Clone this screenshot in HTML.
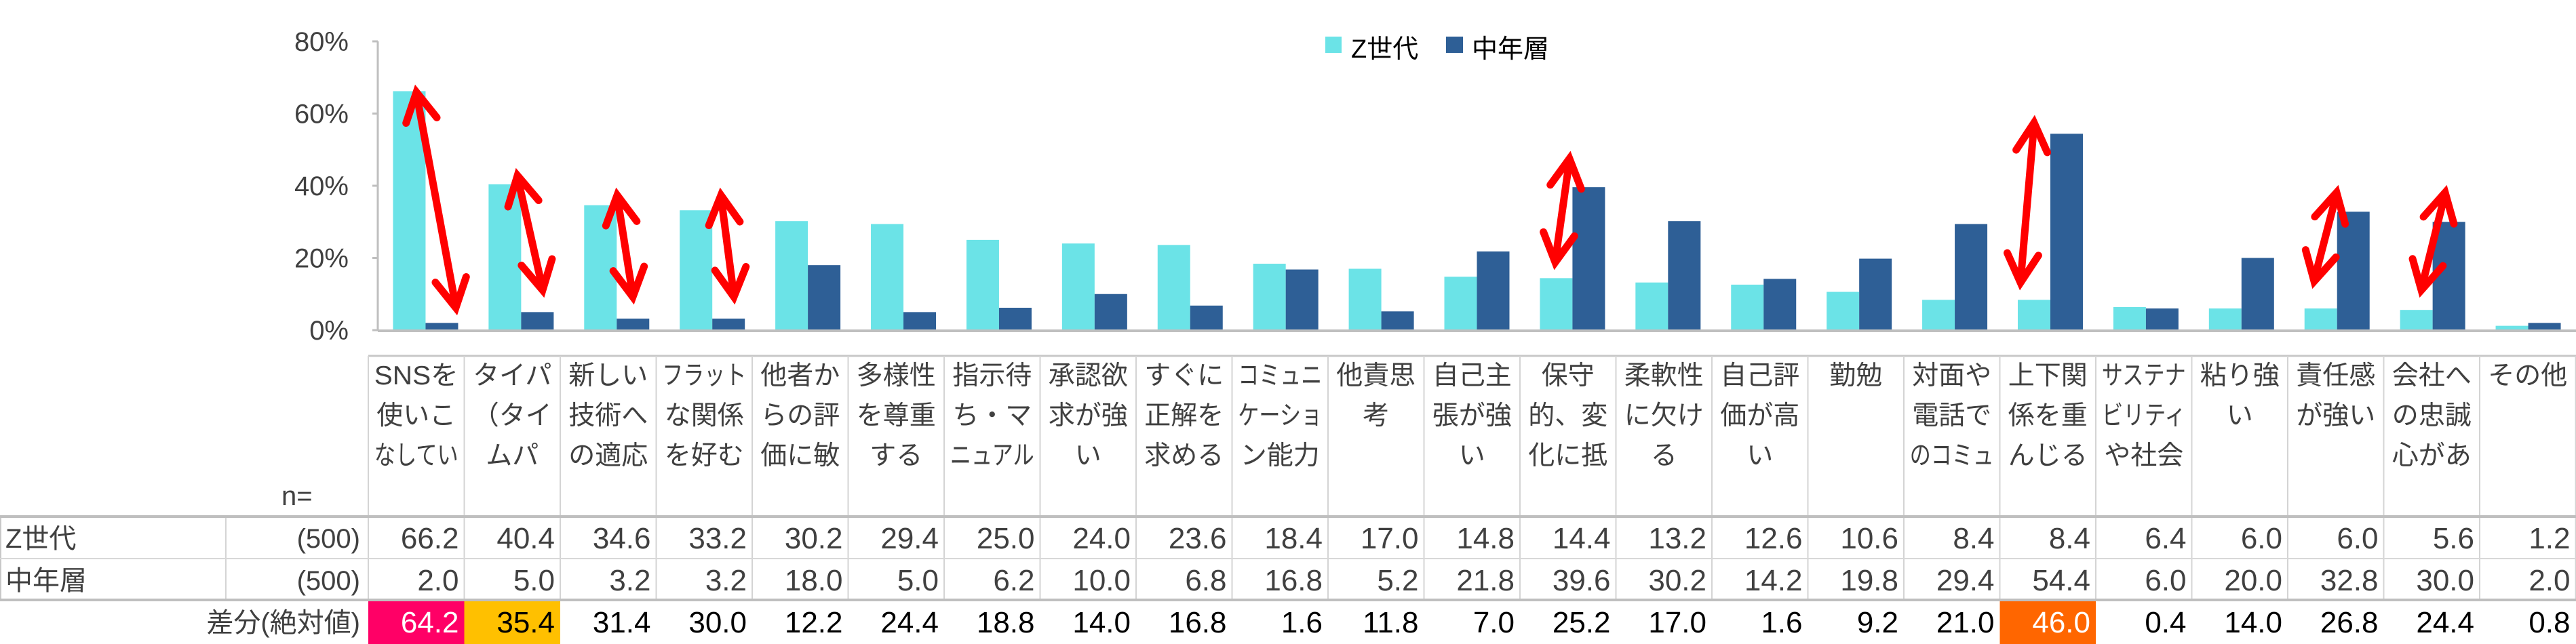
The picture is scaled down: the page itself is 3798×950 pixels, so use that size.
<!DOCTYPE html>
<html><head><meta charset="utf-8">
<style>
html,body{margin:0;padding:0;background:#fff;}
svg{display:block;font-family:"Liberation Sans","Noto Sans CJK JP",sans-serif;}
</style></head>
<body>
<svg id="s" width="3798" height="950" viewBox="0 0 3798 950" xmlns="http://www.w3.org/2000/svg"></svg>
<script>
const S=document.getElementById('s');
let h='';
const Z=[66.2,40.4,34.6,33.2,30.2,29.4,25.0,24.0,23.6,18.4,17.0,14.8,14.4,13.2,12.6,10.6,8.4,8.4,6.4,6.0,6.0,5.6,1.2];
const M=[2.0,5.0,3.2,3.2,18.0,5.0,6.2,10.0,6.8,16.8,5.2,21.8,39.6,30.2,14.2,19.8,29.4,54.4,6.0,20.0,32.8,30.0,2.0];
const D=[64.2,35.4,31.4,30.0,12.2,24.4,18.8,14.0,16.8,1.6,11.8,7.0,25.2,17.0,1.6,9.2,21.0,46.0,0.4,14.0,26.8,24.4,0.8];
const L=[["SNSを","使いこ","なしてい"],["タイパ","（タイ","ムパ"],["新しい","技術へ","の適応"],["フラット","な関係","を好む"],["他者か","らの評","価に敏"],["多様性","を尊重","する"],["指示待","ち・マ","ニュアル"],["承認欲","求が強","い"],["すぐに","正解を","求める"],["コミュニ","ケーショ","ン能力"],["他責思","考"],["自己主","張が強","い"],["保守","的、変","化に抵"],["柔軟性","に欠け","る"],["自己評","価が高","い"],["勤勉"],["対面や","電話で","のコミュ"],["上下関","係を重","んじる"],["サステナ","ビリティ","や社会"],["粘り強","い"],["責任感","が強い"],["会社へ","の忠誠","心があ"],["その他"]];
const y0=487, k=426/80, px0=557, cw=(3798-557)/23;
// y-axis
h+=`<line x1="557" y1="61" x2="557" y2="488" stroke="#bfbfbf" stroke-width="3"/>`;
for(let i=0;i<=4;i++){const y=y0-i*106.5;
 h+=`<line x1="549" y1="${y}" x2="557" y2="${y}" stroke="#bfbfbf" stroke-width="3"/>`;
 h+=`<text x="514" y="${y+14}" font-size="40" fill="#404040" text-anchor="end">${i*20}%</text>`;}
// bars
for(let i=0;i<23;i++){const c=px0+cw*(i+0.5);
 const hz=Z[i]*k, hm=M[i]*k;
 h+=`<rect x="${c-48}" y="${y0-hz}" width="48" height="${hz}" fill="#6BE3E7"/>`;
 h+=`<rect x="${c}" y="${y0-hm}" width="48" height="${hm}" fill="#2E5F96"/>`;}
h+=`<line x1="557" y1="488" x2="3798" y2="488" stroke="#bfbfbf" stroke-width="4"/>`;
// legend
h+=`<rect x="1954" y="54" width="24" height="24" fill="#6BE3E7"/><text x="1992" y="85" font-size="38" fill="#000">Z世代</text>`;
h+=`<rect x="2132" y="54" width="25" height="24" fill="#2E5F96"/><text x="2170" y="85" font-size="38" fill="#000">中年層</text>`;
// arrows
const A=[[614,132,672,458],[763,255,800,432],[910,284,933,442],[1063,284,1082,442],[2314,230,2293,391],[2999,177,2979,421],[3445,280,3412,419],[3605,280,3570,432]];
function head(x,y,dx,dy){const a=Math.atan2(dy,dx),l=48,s=0.5;
 const p1=[x-l*Math.cos(a-s),y-l*Math.sin(a-s)],p2=[x-l*Math.cos(a+s),y-l*Math.sin(a+s)];
 return `<polyline points="${p1} ${x},${y} ${p2}" fill="none" stroke="#FF0000" stroke-width="11" stroke-linecap="round" stroke-linejoin="miter"/>`;}
for(const [x1,y1,x2,y2] of A){
 h+=`<line x1="${x1}" y1="${y1+6}" x2="${x2}" y2="${y2-6}" stroke="#FF0000" stroke-width="11" stroke-linecap="round"/>`;
 h+=head(x1,y1+4,x1-x2,y1-y2)+head(x2,y2-4,x2-x1,y2-y1);}
// table
const tx=543, tw=141.5;
h+=`<rect x="${tx}" y="885" width="${tw}" height="65" fill="#FF0066"/>`;
h+=`<rect x="${tx+tw}" y="885" width="${tw}" height="65" fill="#FFC000"/>`;
h+=`<rect x="${tx+tw*17}" y="885" width="${tw}" height="65" fill="#FF6600"/>`;
h+=`<line x1="${tx}" y1="525" x2="3798" y2="525" stroke="#c8c8c8" stroke-width="3"/>`;
for(let j=0;j<=23;j++){const x=tx+tw*j;h+=`<line x1="${x}" y1="525" x2="${x}" y2="885" stroke="#d4d4d4" stroke-width="2"/>`;}
h+=`<line x1="1" y1="762" x2="1" y2="885" stroke="#c8c8c8" stroke-width="2"/><line x1="333" y1="762" x2="333" y2="885" stroke="#d4d4d4" stroke-width="2"/>`;
h+=`<line x1="0" y1="762" x2="3798" y2="762" stroke="#bfbfbf" stroke-width="4"/>`;
h+=`<line x1="0" y1="824" x2="3798" y2="824" stroke="#d8d8d8" stroke-width="2"/>`;
h+=`<line x1="0" y1="885" x2="3798" y2="885" stroke="#bfbfbf" stroke-width="4"/>`;
for(let j=0;j<23;j++){const c=tx+tw*(j+0.5);
 L[j].forEach((t,r)=>{const yy=567+r*59;
  const extra=t.length>=4?` textLength="124" lengthAdjust="spacingAndGlyphs"`:'';
  h+=`<text x="${c}" y="${yy}" font-size="39" fill="#404040" text-anchor="middle"${extra}>${t}</text>`;});
 const rx=tx+tw*(j+1)-8;
 h+=`<text x="${rx}" y="809" font-size="44" fill="#404040" text-anchor="end">${Z[j].toFixed(1)}</text>`;
 h+=`<text x="${rx}" y="871" font-size="44" fill="#404040" text-anchor="end">${M[j].toFixed(1)}</text>`;
 const col=(j==0||j==17)?'#fff':'#000';
 h+=`<text x="${rx}" y="933" font-size="44" fill="${col}" text-anchor="end">${D[j].toFixed(1)}</text>`;}
h+=`<text x="415" y="745" font-size="40" fill="#404040">n=</text>`;
h+=`<text x="8" y="808" font-size="40" fill="#404040">Z世代</text><text x="531" y="808" font-size="40" fill="#404040" text-anchor="end">(500)</text>`;
h+=`<text x="8" y="870" font-size="40" fill="#404040">中年層</text><text x="531" y="870" font-size="40" fill="#404040" text-anchor="end">(500)</text>`;
h+=`<text x="531" y="932" font-size="40" fill="#404040" text-anchor="end">差分(絶対値)</text>`;
S.innerHTML=h;
</script>
</body></html>
